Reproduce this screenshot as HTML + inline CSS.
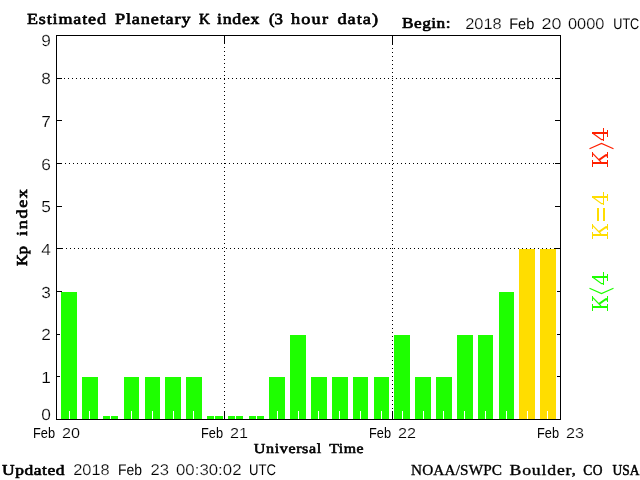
<!DOCTYPE html>
<html><head><meta charset="utf-8"><title>Estimated Planetary K index</title>
<style>html,body{margin:0;padding:0;background:#fff;width:640px;height:480px;overflow:hidden;font-family:"Liberation Sans",sans-serif}</style></head>
<body>
<svg width="640" height="480" viewBox="0 0 640 480" style="position:absolute;left:0;top:0;will-change:transform;transform:translateZ(0)">
<rect x="0" y="0" width="640" height="480" fill="#fff"/>
<g shape-rendering="crispEdges">
<rect x="56" y="35" width="505" height="1" fill="#000"/>
<rect x="56" y="419" width="505" height="1" fill="#000"/>
<rect x="56" y="35" width="1" height="385" fill="#000"/>
<rect x="560" y="35" width="1" height="385" fill="#000"/>
<rect x="57" y="376" width="5" height="1" fill="#000"/>
<rect x="555" y="376" width="5" height="1" fill="#000"/>
<rect x="57" y="334" width="5" height="1" fill="#000"/>
<rect x="555" y="334" width="5" height="1" fill="#000"/>
<rect x="57" y="291" width="5" height="1" fill="#000"/>
<rect x="555" y="291" width="5" height="1" fill="#000"/>
<rect x="57" y="248" width="5" height="1" fill="#000"/>
<rect x="555" y="248" width="5" height="1" fill="#000"/>
<rect x="57" y="206" width="5" height="1" fill="#000"/>
<rect x="555" y="206" width="5" height="1" fill="#000"/>
<rect x="57" y="163" width="5" height="1" fill="#000"/>
<rect x="555" y="163" width="5" height="1" fill="#000"/>
<rect x="57" y="120" width="5" height="1" fill="#000"/>
<rect x="555" y="120" width="5" height="1" fill="#000"/>
<rect x="57" y="78" width="5" height="1" fill="#000"/>
<rect x="555" y="78" width="5" height="1" fill="#000"/>
<line x1="62" y1="248.5" x2="555" y2="248.5" stroke="#000" stroke-width="1" stroke-dasharray="1 3"/>
<line x1="65" y1="163.5" x2="554" y2="163.5" stroke="#000" stroke-width="1" stroke-dasharray="1 3"/>
<line x1="64" y1="78.5" x2="553" y2="78.5" stroke="#000" stroke-width="1" stroke-dasharray="1 3"/>
<rect x="224" y="36" width="1" height="8" fill="#000"/>
<rect x="224" y="411" width="1" height="8" fill="#000"/>
<line x1="224.5" y1="47" x2="224.5" y2="408" stroke="#000" stroke-width="1" stroke-dasharray="1 3"/>
<rect x="392" y="36" width="1" height="8" fill="#000"/>
<rect x="392" y="411" width="1" height="8" fill="#000"/>
<line x1="392.5" y1="44" x2="392.5" y2="409" stroke="#000" stroke-width="1" stroke-dasharray="1 3"/>
<rect x="60" y="292" width="18" height="127" fill="#fff"/>
<rect x="61" y="292" width="16" height="127" fill="#1eff00"/>
<rect x="81" y="377" width="18" height="42" fill="#fff"/>
<rect x="82" y="377" width="16" height="42" fill="#1eff00"/>
<rect x="102" y="416" width="17" height="3" fill="#fff"/>
<rect x="103" y="416" width="15" height="3" fill="#1eff00"/>
<rect x="123" y="377" width="17" height="42" fill="#fff"/>
<rect x="124" y="377" width="15" height="42" fill="#1eff00"/>
<rect x="144" y="377" width="17" height="42" fill="#fff"/>
<rect x="145" y="377" width="15" height="42" fill="#1eff00"/>
<rect x="164" y="377" width="18" height="42" fill="#fff"/>
<rect x="165" y="377" width="16" height="42" fill="#1eff00"/>
<rect x="185" y="377" width="18" height="42" fill="#fff"/>
<rect x="186" y="377" width="16" height="42" fill="#1eff00"/>
<rect x="206" y="416" width="18" height="3" fill="#fff"/>
<rect x="207" y="416" width="16" height="3" fill="#1eff00"/>
<rect x="227" y="416" width="17" height="3" fill="#fff"/>
<rect x="228" y="416" width="15" height="3" fill="#1eff00"/>
<rect x="248" y="416" width="17" height="3" fill="#fff"/>
<rect x="249" y="416" width="15" height="3" fill="#1eff00"/>
<rect x="268" y="377" width="18" height="42" fill="#fff"/>
<rect x="269" y="377" width="16" height="42" fill="#1eff00"/>
<rect x="289" y="335" width="18" height="84" fill="#fff"/>
<rect x="290" y="335" width="16" height="84" fill="#1eff00"/>
<rect x="310" y="377" width="18" height="42" fill="#fff"/>
<rect x="311" y="377" width="16" height="42" fill="#1eff00"/>
<rect x="331" y="377" width="18" height="42" fill="#fff"/>
<rect x="332" y="377" width="16" height="42" fill="#1eff00"/>
<rect x="352" y="377" width="17" height="42" fill="#fff"/>
<rect x="353" y="377" width="15" height="42" fill="#1eff00"/>
<rect x="373" y="377" width="17" height="42" fill="#fff"/>
<rect x="374" y="377" width="15" height="42" fill="#1eff00"/>
<rect x="393" y="335" width="18" height="84" fill="#fff"/>
<rect x="394" y="335" width="16" height="84" fill="#1eff00"/>
<rect x="414" y="377" width="18" height="42" fill="#fff"/>
<rect x="415" y="377" width="16" height="42" fill="#1eff00"/>
<rect x="435" y="377" width="18" height="42" fill="#fff"/>
<rect x="436" y="377" width="16" height="42" fill="#1eff00"/>
<rect x="456" y="335" width="18" height="84" fill="#fff"/>
<rect x="457" y="335" width="16" height="84" fill="#1eff00"/>
<rect x="477" y="335" width="17" height="84" fill="#fff"/>
<rect x="478" y="335" width="15" height="84" fill="#1eff00"/>
<rect x="498" y="292" width="17" height="127" fill="#fff"/>
<rect x="499" y="292" width="15" height="127" fill="#1eff00"/>
<rect x="518" y="249" width="18" height="170" fill="#fff"/>
<rect x="519" y="249" width="16" height="170" fill="#ffdd00"/>
<rect x="539" y="249" width="18" height="170" fill="#fff"/>
<rect x="540" y="249" width="16" height="170" fill="#ffdd00"/>
<rect x="69" y="411" width="1" height="8" fill="#fff"/>
<rect x="89" y="411" width="1" height="8" fill="#fff"/>
<rect x="110" y="411" width="1" height="8" fill="#fff"/>
<rect x="131" y="411" width="1" height="8" fill="#fff"/>
<rect x="152" y="411" width="1" height="8" fill="#fff"/>
<rect x="173" y="411" width="1" height="8" fill="#fff"/>
<rect x="193" y="411" width="1" height="8" fill="#fff"/>
<rect x="214" y="411" width="1" height="8" fill="#fff"/>
<rect x="235" y="411" width="1" height="8" fill="#fff"/>
<rect x="256" y="411" width="1" height="8" fill="#fff"/>
<rect x="277" y="411" width="1" height="8" fill="#fff"/>
<rect x="298" y="411" width="1" height="8" fill="#fff"/>
<rect x="318" y="411" width="1" height="8" fill="#fff"/>
<rect x="339" y="411" width="1" height="8" fill="#fff"/>
<rect x="360" y="411" width="1" height="8" fill="#fff"/>
<rect x="381" y="411" width="1" height="8" fill="#fff"/>
<rect x="402" y="411" width="1" height="8" fill="#fff"/>
<rect x="423" y="411" width="1" height="8" fill="#fff"/>
<rect x="443" y="411" width="1" height="8" fill="#fff"/>
<rect x="464" y="411" width="1" height="8" fill="#fff"/>
<rect x="485" y="411" width="1" height="8" fill="#fff"/>
<rect x="506" y="411" width="1" height="8" fill="#fff"/>
<rect x="527" y="411" width="1" height="8" fill="#fff"/>
<rect x="547" y="411" width="1" height="8" fill="#fff"/>
</g>
<g fill="#000">
<text transform="translate(27.00,23.7) scale(1.173,1)" font-family='"Liberation Serif", serif' font-weight="normal" stroke="#000" stroke-width="0.65" stroke-linejoin="round" text-rendering="geometricPrecision" font-size="15.4" textLength="67.34" lengthAdjust="spacing">Estimated</text>
<text transform="translate(115.00,23.7) scale(1.179,1)" font-family='"Liberation Serif", serif' font-weight="normal" stroke="#000" stroke-width="0.65" stroke-linejoin="round" text-rendering="geometricPrecision" font-size="15.4" textLength="64.02" lengthAdjust="spacing">Planetary</text>
<text x="199.00" y="23.7" font-family='"Liberation Serif", serif' font-weight="normal" stroke="#000" stroke-width="0.65" stroke-linejoin="round" text-rendering="geometricPrecision" font-size="15.4" textLength="11.00" lengthAdjust="spacingAndGlyphs">K</text>
<text transform="translate(217.00,23.7) scale(1.157,1)" font-family='"Liberation Serif", serif' font-weight="normal" stroke="#000" stroke-width="0.65" stroke-linejoin="round" text-rendering="geometricPrecision" font-size="15.4" textLength="36.74" lengthAdjust="spacing">index</text>
<text transform="translate(269.00,23.7) scale(1.091,1)" font-family='"Liberation Serif", serif' font-weight="normal" stroke="#000" stroke-width="0.65" stroke-linejoin="round" text-rendering="geometricPrecision" font-size="15.4" textLength="12.83" lengthAdjust="spacing">(3</text>
<text transform="translate(291.00,23.7) scale(1.184,1)" font-family='"Liberation Serif", serif' font-weight="normal" stroke="#000" stroke-width="0.65" stroke-linejoin="round" text-rendering="geometricPrecision" font-size="15.4" textLength="31.24" lengthAdjust="spacing">hour</text>
<text transform="translate(337.50,23.7) scale(1.186,1)" font-family='"Liberation Serif", serif' font-weight="normal" stroke="#000" stroke-width="0.65" stroke-linejoin="round" text-rendering="geometricPrecision" font-size="15.4" textLength="34.14" lengthAdjust="spacing">data)</text>
<text transform="translate(402.00,28) scale(1.128,1)" font-family='"Liberation Serif", serif' font-weight="normal" stroke="#000" stroke-width="0.65" stroke-linejoin="round" font-size="15.3" textLength="42.99" lengthAdjust="spacing">Begin:</text>
<text x="465.20" y="29" font-family='"Liberation Sans", sans-serif' font-weight="normal" text-rendering="geometricPrecision" stroke="#fff" stroke-width="0.22" font-size="15.4" textLength="36.55" lengthAdjust="spacingAndGlyphs">2018</text>
<text x="509.20" y="29" font-family='"Liberation Sans", sans-serif' font-weight="normal" text-rendering="geometricPrecision" font-size="15.4" textLength="25.05" lengthAdjust="spacingAndGlyphs">Feb</text>
<text x="541.50" y="29" font-family='"Liberation Sans", sans-serif' font-weight="normal" text-rendering="geometricPrecision" stroke="#fff" stroke-width="0.22" font-size="15.4" textLength="20.00" lengthAdjust="spacingAndGlyphs">20</text>
<text x="568.00" y="29" font-family='"Liberation Sans", sans-serif' font-weight="normal" text-rendering="geometricPrecision" stroke="#fff" stroke-width="0.22" font-size="15.4" textLength="36.50" lengthAdjust="spacingAndGlyphs">0000</text>
<text x="613.25" y="29" font-family='"Liberation Sans", sans-serif' font-weight="normal" text-rendering="geometricPrecision" font-size="15.4" textLength="26.00" lengthAdjust="spacingAndGlyphs">UTC</text>
<text transform="translate(2.00,475) scale(1.142,1)" font-family='"Liberation Serif", serif' font-weight="normal" stroke="#000" stroke-width="0.65" stroke-linejoin="round" font-size="15.3" textLength="54.71" lengthAdjust="spacing">Updated</text>
<text x="73.25" y="475" font-family='"Liberation Sans", sans-serif' font-weight="normal" text-rendering="geometricPrecision" stroke="#fff" stroke-width="0.22" font-size="15.4" textLength="36.50" lengthAdjust="spacingAndGlyphs">2018</text>
<text x="118.00" y="475" font-family='"Liberation Sans", sans-serif' font-weight="normal" text-rendering="geometricPrecision" font-size="15.4" textLength="24.00" lengthAdjust="spacingAndGlyphs">Feb</text>
<text x="150.50" y="475" font-family='"Liberation Sans", sans-serif' font-weight="normal" text-rendering="geometricPrecision" stroke="#fff" stroke-width="0.22" font-size="15.4" textLength="18.50" lengthAdjust="spacingAndGlyphs">23</text>
<text x="176.00" y="475" font-family='"Liberation Sans", sans-serif' font-weight="normal" text-rendering="geometricPrecision" stroke="#fff" stroke-width="0.22" font-size="15.4" textLength="65.50" lengthAdjust="spacingAndGlyphs">00:30:02</text>
<text x="249.00" y="475" font-family='"Liberation Sans", sans-serif' font-weight="normal" text-rendering="geometricPrecision" font-size="15.4" textLength="27.00" lengthAdjust="spacingAndGlyphs">UTC</text>
<text transform="translate(411.00,475) scale(0.999,1)" font-family='"Liberation Serif", serif' font-weight="normal" stroke="#000" stroke-width="0.36" stroke-linejoin="round" font-size="15.3" textLength="91.11" lengthAdjust="spacing">NOAA/SWPC</text>
<text transform="translate(509.50,475) scale(1.159,1)" font-family='"Liberation Serif", serif' font-weight="normal" stroke="#000" stroke-width="0.36" stroke-linejoin="round" font-size="15.3" textLength="57.38" lengthAdjust="spacing">Boulder,</text>
<text transform="translate(583.25,475) scale(0.882,1)" font-family='"Liberation Serif", serif' font-weight="normal" stroke="#000" stroke-width="0.52" stroke-linejoin="round" font-size="15.3" textLength="21.82" lengthAdjust="spacing">CO</text>
<text transform="translate(612.50,475) scale(0.882,1)" font-family='"Liberation Serif", serif' font-weight="normal" stroke="#000" stroke-width="0.52" stroke-linejoin="round" font-size="15.3" textLength="30.61" lengthAdjust="spacing">USA</text>
<text transform="translate(253.75,453) scale(1.163,1)" font-family='"Liberation Serif", serif' font-weight="normal" stroke="#000" stroke-width="0.6" stroke-linejoin="round" text-rendering="geometricPrecision" font-size="13.8" textLength="58.03" lengthAdjust="spacing">Universal</text>
<text transform="translate(329.25,453) scale(1.145,1)" font-family='"Liberation Serif", serif' font-weight="normal" stroke="#000" stroke-width="0.6" stroke-linejoin="round" text-rendering="geometricPrecision" font-size="13.8" textLength="29.90" lengthAdjust="spacing">Time</text>
<text x="33.00" y="438" font-family='"Liberation Sans", sans-serif' font-weight="normal" font-size="14" textLength="22.00" lengthAdjust="spacingAndGlyphs">Feb</text>
<text x="62.00" y="438" font-family='"Liberation Sans", sans-serif' font-weight="normal" stroke="#fff" stroke-width="0.2" font-size="14" textLength="18.00" lengthAdjust="spacingAndGlyphs">20</text>
<text x="201.00" y="438" font-family='"Liberation Sans", sans-serif' font-weight="normal" font-size="14" textLength="22.00" lengthAdjust="spacingAndGlyphs">Feb</text>
<text x="230.00" y="438" font-family='"Liberation Sans", sans-serif' font-weight="normal" stroke="#fff" stroke-width="0.2" font-size="14" textLength="18.00" lengthAdjust="spacingAndGlyphs">21</text>
<text x="369.00" y="438" font-family='"Liberation Sans", sans-serif' font-weight="normal" font-size="14" textLength="22.00" lengthAdjust="spacingAndGlyphs">Feb</text>
<text x="398.00" y="438" font-family='"Liberation Sans", sans-serif' font-weight="normal" stroke="#fff" stroke-width="0.2" font-size="14" textLength="18.00" lengthAdjust="spacingAndGlyphs">22</text>
<text x="537.00" y="438" font-family='"Liberation Sans", sans-serif' font-weight="normal" font-size="14" textLength="22.00" lengthAdjust="spacingAndGlyphs">Feb</text>
<text x="566.00" y="438" font-family='"Liberation Sans", sans-serif' font-weight="normal" stroke="#fff" stroke-width="0.2" font-size="14" textLength="18.00" lengthAdjust="spacingAndGlyphs">23</text>
<text x="41.3" y="420" font-family='"Liberation Sans", sans-serif' font-weight="normal" text-rendering="geometricPrecision" stroke="#fff" stroke-width="0.2" font-size="16" textLength="9.6" lengthAdjust="spacingAndGlyphs">0</text>
<text x="41.3" y="383" font-family='"Liberation Sans", sans-serif' font-weight="normal" text-rendering="geometricPrecision" stroke="#fff" stroke-width="0.2" font-size="16" textLength="9.6" lengthAdjust="spacingAndGlyphs">1</text>
<text x="41.3" y="340" font-family='"Liberation Sans", sans-serif' font-weight="normal" text-rendering="geometricPrecision" stroke="#fff" stroke-width="0.2" font-size="16" textLength="9.6" lengthAdjust="spacingAndGlyphs">2</text>
<text x="41.3" y="298" font-family='"Liberation Sans", sans-serif' font-weight="normal" text-rendering="geometricPrecision" stroke="#fff" stroke-width="0.2" font-size="16" textLength="9.6" lengthAdjust="spacingAndGlyphs">3</text>
<text x="41.3" y="255" font-family='"Liberation Sans", sans-serif' font-weight="normal" text-rendering="geometricPrecision" stroke="#fff" stroke-width="0.2" font-size="16" textLength="9.6" lengthAdjust="spacingAndGlyphs">4</text>
<text x="41.3" y="212" font-family='"Liberation Sans", sans-serif' font-weight="normal" text-rendering="geometricPrecision" stroke="#fff" stroke-width="0.2" font-size="16" textLength="9.6" lengthAdjust="spacingAndGlyphs">5</text>
<text x="41.3" y="170" font-family='"Liberation Sans", sans-serif' font-weight="normal" text-rendering="geometricPrecision" stroke="#fff" stroke-width="0.2" font-size="16" textLength="9.6" lengthAdjust="spacingAndGlyphs">6</text>
<text x="41.3" y="127" font-family='"Liberation Sans", sans-serif' font-weight="normal" text-rendering="geometricPrecision" stroke="#fff" stroke-width="0.2" font-size="16" textLength="9.6" lengthAdjust="spacingAndGlyphs">7</text>
<text x="41.3" y="84" font-family='"Liberation Sans", sans-serif' font-weight="normal" text-rendering="geometricPrecision" stroke="#fff" stroke-width="0.2" font-size="16" textLength="9.6" lengthAdjust="spacingAndGlyphs">8</text>
<text x="41.3" y="46" font-family='"Liberation Sans", sans-serif' font-weight="normal" text-rendering="geometricPrecision" stroke="#fff" stroke-width="0.2" font-size="16" textLength="9.6" lengthAdjust="spacingAndGlyphs">9</text>
<text transform="translate(26.6,266.0) rotate(-90)" font-family='"Liberation Serif", serif' font-weight="normal" stroke="#000" stroke-width="0.65" stroke-linejoin="round" text-rendering="geometricPrecision" font-size="15.2" textLength="20.0" lengthAdjust="spacingAndGlyphs">Kp</text>
<text transform="translate(26.6,236.0) rotate(-90) scale(1.2,1)" font-family='"Liberation Serif", serif' font-weight="normal" stroke="#000" stroke-width="0.65" stroke-linejoin="round" text-rendering="geometricPrecision" font-size="15.2" textLength="39.17" lengthAdjust="spacing">index</text>
</g>
<g fill="#ff2000" color="#ff2000" style="color:#ff2000">
<g transform="translate(592,152)"><rect x="0" y="10" width="16" height="2" shape-rendering="crispEdges"/><rect x="0" y="8" width="1" height="7" shape-rendering="crispEdges"/><rect x="15" y="8" width="1" height="7" shape-rendering="crispEdges"/><rect x="0" y="0" width="1" height="5" shape-rendering="crispEdges"/><rect x="15" y="0" width="1" height="6" shape-rendering="crispEdges"/><path d="M0.6,1.4 L9.0,10.0" fill="none" stroke="currentColor" stroke-width="1.15"/><path d="M6.6,7.0 L13.4,2.2 L15.5,2 L15.5,4.4 L13.6,4.6 L7.6,8.7 Z" /></g>
<g transform="translate(592,128)"><rect x="0" y="4" width="16" height="2" shape-rendering="crispEdges"/><rect x="11" y="0" width="1" height="13" shape-rendering="crispEdges"/><rect x="15" y="2" width="1" height="7" shape-rendering="crispEdges"/><path d="M0.8,5.2 L9.6,11.6 L11.5,11.6" fill="none" stroke="currentColor" stroke-width="1.15"/></g>
<polyline points="589.5,148.7 601.5,143.5 613.5,148.7" fill="none" stroke="#ff2000" stroke-width="1.2"/>
</g>
<g fill="#ffdd00" color="#ffdd00" style="color:#ffdd00">
<g transform="translate(592,224)"><rect x="0" y="10" width="16" height="2" shape-rendering="crispEdges"/><rect x="0" y="8" width="1" height="7" shape-rendering="crispEdges"/><rect x="15" y="8" width="1" height="7" shape-rendering="crispEdges"/><rect x="0" y="0" width="1" height="5" shape-rendering="crispEdges"/><rect x="15" y="0" width="1" height="6" shape-rendering="crispEdges"/><path d="M0.6,1.4 L9.0,10.0" fill="none" stroke="currentColor" stroke-width="1.15"/><path d="M6.6,7.0 L13.4,2.2 L15.5,2 L15.5,4.4 L13.6,4.6 L7.6,8.7 Z" /></g>
<g transform="translate(592,192)"><rect x="0" y="4" width="16" height="2" shape-rendering="crispEdges"/><rect x="11" y="0" width="1" height="13" shape-rendering="crispEdges"/><rect x="15" y="2" width="1" height="7" shape-rendering="crispEdges"/><path d="M0.8,5.2 L9.6,11.6 L11.5,11.6" fill="none" stroke="currentColor" stroke-width="1.15"/></g>
<rect x="597" y="208" width="2" height="13" shape-rendering="crispEdges"/><rect x="603" y="208" width="2" height="13" shape-rendering="crispEdges"/>
</g>
<g fill="#1eff00" color="#1eff00" style="color:#1eff00">
<g transform="translate(592,296)"><rect x="0" y="10" width="16" height="2" shape-rendering="crispEdges"/><rect x="0" y="8" width="1" height="7" shape-rendering="crispEdges"/><rect x="15" y="8" width="1" height="7" shape-rendering="crispEdges"/><rect x="0" y="0" width="1" height="5" shape-rendering="crispEdges"/><rect x="15" y="0" width="1" height="6" shape-rendering="crispEdges"/><path d="M0.6,1.4 L9.0,10.0" fill="none" stroke="currentColor" stroke-width="1.15"/><path d="M6.6,7.0 L13.4,2.2 L15.5,2 L15.5,4.4 L13.6,4.6 L7.6,8.7 Z" /></g>
<g transform="translate(592,272)"><rect x="0" y="4" width="16" height="2" shape-rendering="crispEdges"/><rect x="11" y="0" width="1" height="13" shape-rendering="crispEdges"/><rect x="15" y="2" width="1" height="7" shape-rendering="crispEdges"/><path d="M0.8,5.2 L9.6,11.6 L11.5,11.6" fill="none" stroke="currentColor" stroke-width="1.15"/></g>
<polyline points="589.5,288.3 601.5,293.5 613.5,288.3" fill="none" stroke="#1eff00" stroke-width="1.2"/>
</g>
</svg>
</body></html>
